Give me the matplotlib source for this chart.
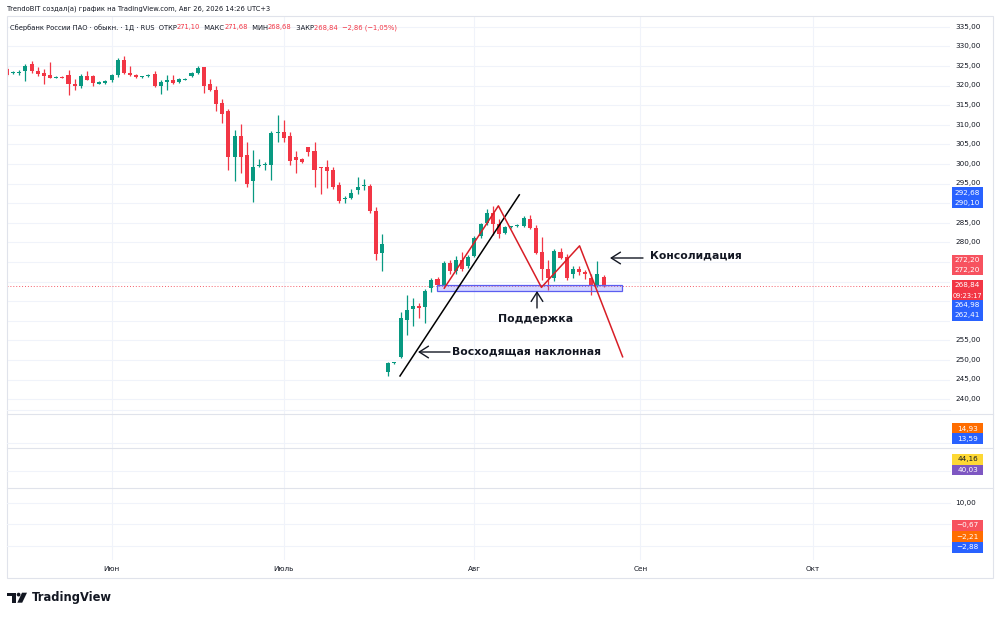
import matplotlib
matplotlib.use("Agg")
from matplotlib import pyplot as plt
from matplotlib.patches import Rectangle, Polygon, Circle

# daily candles (index = bar number)
opens = [324.3, 323.1, 323.3, 323.6, 325.4, 323.7, 323.2, 322.7, 322.0, 322.2,
         322.6, 320.5, 320.0, 322.4, 322.4, 320.5, 320.7, 321.3, 322.6, 326.5,
         323.3, 322.8, 322.2, 322.3, 322.9, 320.0, 321.0, 321.3, 320.8, 321.5,
         322.4, 323.1, 324.6, 320.5, 318.9, 315.5, 313.5, 301.7, 307.2, 302.3,
         295.7, 299.5, 299.7, 299.8, 307.9, 308.1, 307.0, 301.7, 301.3, 304.2,
         303.4, 299.1, 299.3, 298.5, 294.7, 291.1, 291.3, 293.3, 294.3, 294.4,
         288.0, 277.3, 247.0, 249.1, 250.8, 260.2, 263.0, 263.8, 263.6, 268.4,
         270.7, 269.2, 274.6, 272.6, 275.6, 273.9, 276.5, 281.6, 284.8, 287.6,
         284.6, 282.4, 283.8, 284.1, 284.2, 285.9, 283.7, 277.5, 273.3, 270.8,
         277.6, 276.2, 272.0, 273.3, 272.4, 270.8, 269.2, 271.10]
highs = [324.6, 323.7, 324.0, 325.6, 326.3, 324.7, 324.2, 326.0, 322.4, 322.4,
         324.0, 321.6, 323.0, 323.6, 322.6, 321.1, 321.3, 323.0, 327.0, 327.5,
         324.9, 323.0, 322.5, 323.0, 323.6, 321.4, 322.8, 322.7, 321.8, 321.8,
         323.4, 324.9, 324.8, 321.7, 319.8, 316.6, 314.0, 308.7, 310.2, 305.5,
         303.6, 301.3, 300.4, 308.5, 312.6, 311.3, 308.1, 303.4, 301.6, 304.4,
         305.6, 299.3, 301.1, 299.1, 295.5, 291.9, 293.7, 296.7, 296.1, 294.9,
         289.0, 282.0, 249.5, 249.5, 262.2, 266.5, 265.9, 264.5, 268.2, 271.0,
         271.1, 275.2, 275.4, 276.4, 277.5, 276.8, 281.6, 285.0, 288.5, 289.3,
         285.9, 284.2, 284.2, 284.6, 286.8, 287.0, 284.4, 281.3, 275.6, 278.4,
         278.6, 277.1, 274.0, 274.0, 272.9, 271.9, 275.2, 271.68]
lows = [322.4, 322.9, 322.8, 321.2, 323.3, 322.5, 320.3, 321.8, 321.8, 321.9,
        317.7, 318.8, 319.3, 321.3, 320.0, 320.3, 320.5, 321.0, 322.2, 322.9,
        322.5, 321.8, 322.0, 322.2, 319.6, 317.9, 318.9, 320.5, 320.6, 321.4,
        322.2, 322.9, 318.1, 318.7, 313.6, 310.4, 298.5, 295.6, 297.8, 294.2,
        290.4, 299.1, 298.4, 296.0, 305.5, 305.5, 299.8, 297.8, 300.2, 302.1,
        294.0, 292.3, 293.8, 293.6, 289.9, 289.9, 291.0, 292.2, 293.3, 287.6,
        275.6, 272.6, 246.0, 249.0, 250.5, 256.4, 258.7, 260.6, 259.4, 267.2,
        268.8, 268.8, 271.8, 272.0, 272.8, 273.4, 276.2, 281.2, 284.3, 281.9,
        281.2, 282.0, 283.6, 283.8, 284.0, 283.3, 276.9, 270.5, 267.9, 270.2,
        275.8, 270.4, 271.0, 271.6, 270.6, 266.6, 268.5, 268.68]
closes = [322.6, 323.4, 323.5, 325.0, 323.7, 322.9, 322.4, 322.0, 322.2, 322.0,
          320.3, 320.0, 322.4, 321.5, 320.6, 320.9, 321.1, 322.8, 326.6, 323.1,
          322.6, 322.2, 322.3, 322.8, 319.8, 320.9, 321.4, 320.7, 321.6, 321.6,
          323.1, 324.5, 320.0, 318.9, 315.2, 312.8, 301.7, 307.0, 301.7, 295.0,
          299.1, 299.7, 299.9, 307.8, 308.1, 306.6, 300.8, 301.0, 300.4, 303.1,
          298.5, 299.0, 298.3, 294.2, 290.6, 291.2, 292.7, 294.0, 294.6, 288.0,
          276.9, 279.6, 249.1, 249.3, 260.6, 262.8, 263.7, 263.2, 267.7, 270.5,
          269.2, 274.6, 272.6, 275.6, 273.3, 276.2, 281.2, 284.6, 287.6, 284.6,
          282.2, 283.9, 284.0, 284.3, 286.2, 283.7, 277.3, 273.3, 270.8, 277.8,
          276.1, 270.8, 273.3, 272.4, 271.8, 269.2, 271.8, 268.84]
last_price = 268.84

month_pos = [17, 45, 76, 103, 131]
month_names = ['Июн', 'Июль', 'Авг', 'Сен', 'Окт']
price_ticks = [335, 330, 325, 320, 315, 310, 305, 300, 295, 290, 285, 280,
               275, 270, 265, 260, 255, 250, 245, 240]
hidden_ticks = [290, 275, 270, 265, 260]   # covered by the coloured tags

# drawings
trend_x = [63.9, 83.3]
trend_y = [245.9, 292.1]
pattern_x = [71.1, 79.9, 86.9, 93.1, 100.1]
pattern_y = [268.3, 289.3, 268.5, 279.1, 250.8]
zone_x = [69.9, 100.0]
zone_y = [267.6, 269.1]

# scale tags on the right: (text, colour, pixel y)
tags = [('292,68', '#2962ff', 192.5), ('290,10', '#2962ff', 202.5),
        ('272,20', '#f7525f', 260.0), ('272,20', '#f7525f', 270.0),
        ('268,84', '#f23645', 285.5), ('09:23:17', '#f23645', 295.5),
        ('264,98', '#2962ff', 305.5), ('262,41', '#2962ff', 315.5),
        ('14,93', '#ff6d00', 428.5), ('13,59', '#2962ff', 438.5),
        ('44,16', '#fdd835', 459.5), ('40,03', '#7e57c2', 470.0),
        ('−0,67', '#f7525f', 525.5), ('−2,21', '#ff6d00', 536.5),
        ('−2,88', '#2962ff', 547.5)]

UP = '#089981'
DOWN = '#f23645'
INK = '#131722'
GRID = '#f0f3fa'
EDGE = '#e0e3eb'

W, H = 1000, 617
fig = plt.figure(figsize=(10, 6.17), dpi=100)
fig.patch.set_facecolor('white')

px_per_unit = 3.92
y_top = 335 + (26.7 - 16) / px_per_unit
y_bot = 335 - (414 - 26.7) / px_per_unit
x_left = (6.5 - 7) / 6.15
x_right = (950 - 7) / 6.15

ax = fig.add_axes([6.5 / W, 1 - 414 / H, 943.5 / W, (414 - 16) / H])
ax.set_xlim(x_left, x_right)
ax.set_ylim(y_bot, y_top)
ax.axis('off')

for p in price_ticks:
    ax.axhline(p, color=GRID, lw=0.8, zorder=0)
for m in month_pos:
    ax.axvline(m, color=GRID, lw=0.8, zorder=0)

xs = list(range(len(opens)))
cols = [UP if c >= o else DOWN for o, c in zip(opens, closes)]
ax.vlines(xs, lows, highs, colors=cols, lw=0.9, zorder=2)
bodies = [max(abs(c - o), 0.25) for o, c in zip(opens, closes)]
bottoms = [min(o, c) for o, c in zip(opens, closes)]
ax.bar(xs, bodies, bottom=bottoms, width=0.66, color=cols, lw=0, zorder=3)

ax.axhline(last_price, color=DOWN, lw=0.7, ls=(0, (1, 2)), alpha=0.8, zorder=1)

ax.add_patch(Rectangle((zone_x[0], zone_y[0]), zone_x[1] - zone_x[0],
                       zone_y[1] - zone_y[0], facecolor=(0.42, 0.44, 1.0, 0.28),
                       edgecolor='#5b5ef0', lw=0.9, zorder=4))
ax.plot(trend_x, trend_y, color='black', lw=1.1, zorder=5)
ax.plot(pattern_x, pattern_y, color='#d81e26', lw=1.1, zorder=5)

# indicator panes (empty, only grid)
ax2 = fig.add_axes([6.5 / W, 1 - 560 / H, 943.5 / W, (560 - 414) / H])
ax2.set_xlim(x_left, x_right)
ax2.set_ylim(0, 1)
ax2.axis('off')
for m in month_pos:
    ax2.axvline(m, color=GRID, lw=0.8, zorder=0)

# overlay in pixel coordinates for frame, texts and tags
ov = fig.add_axes([0, 0, 1, 1])
ov.set_xlim(0, W)
ov.set_ylim(H, 0)
ov.axis('off')

ov.add_patch(Rectangle((6.5, 16), 993 - 6.5, 578 - 16, fill=False,
                       edgecolor=EDGE, lw=0.8))
for yy in [410, 443, 471, 503, 524, 546]:
    ov.plot([6.5, 950], [yy, yy], color=GRID, lw=0.8)
for yy in [414, 447.5, 488]:
    ov.plot([6.5, 993], [yy, yy], color=EDGE, lw=0.8)

LBL = 5.2
for p in price_ticks:
    if p in hidden_ticks:
        continue
    yy = 26.7 + (335 - p) * px_per_unit
    ov.text(955, yy, f"{p:.2f}".replace('.', ','), fontsize=LBL, color=INK,
            va='center', ha='left')
ov.text(955, 503.3, '10,00', fontsize=LBL, color=INK, va='center', ha='left')

for txt, c, yy in tags:
    ov.add_patch(Rectangle((952, yy - 5.2), 31, 10.4, facecolor=c, lw=0))
    tc = INK if c == '#fdd835' else 'white'
    ov.text(967.5, yy, txt, fontsize=LBL if len(txt) < 7 else 4.8, color=tc,
            va='center', ha='center')

for m, name in zip(month_pos, month_names):
    xpx = 7 + m * 6.15
    ov.text(xpx, 569, name, fontsize=LBL, color=INK, ha='center', va='center')

# header lines
ov.text(7, 9, 'TrendoBIT создал(а) график на TradingView.com, Авг 26, 2026 14:26 UTC+3',
        fontsize=4.85, color=INK, va='center', ha='left')

HDR = 4.9
pieces = [('Сбербанк России ПАО · обыкн. · 1Д · RUS  ОТКР', INK), ('271,10', DOWN),
          ('  МАКС', INK), ('271,68', DOWN), ('  МИН', INK), ('268,68', DOWN),
          ('  ЗАКР', INK), ('268,84  −2,86 (−1,05%)', DOWN)]
renderer = fig.canvas.get_renderer()
prefix = ''
for txt, c in pieces:
    if prefix:
        probe = ov.text(0, 0, prefix + '|', fontsize=HDR)
        bar = ov.text(0, 0, '|', fontsize=HDR)
        w = probe.get_window_extent(renderer).width - bar.get_window_extent(renderer).width
        probe.remove()
        bar.remove()
    else:
        w = 0
    ov.text(10 + w, 29.5, txt, fontsize=HDR, color=c, va='baseline', ha='left')
    prefix += txt

# annotations
head = dict(arrowstyle='->,head_length=0.55,head_width=0.35', color=INK, lw=1.0,
            mutation_scale=12, shrinkA=0, shrinkB=0)
ov.annotate('', xy=(610, 258), xytext=(643, 258), arrowprops=head)
ov.text(650, 256, 'Консолидация', fontsize=7.8, fontweight='bold', color=INK,
        va='center', ha='left')
ov.annotate('', xy=(537, 291), xytext=(537, 308), arrowprops=head)
ov.text(536, 319, 'Поддержка', fontsize=7.8, fontweight='bold', color=INK,
        va='center', ha='center')
ov.annotate('', xy=(418, 352), xytext=(450, 352), arrowprops=head)
ov.text(452, 352, 'Восходящая наклонная', fontsize=7.8, fontweight='bold', color=INK,
        va='center', ha='left')

# TradingView logo
ov.add_patch(Rectangle((7.3, 592.7), 8.7, 3.5, facecolor=INK, lw=0))
ov.add_patch(Rectangle((11.8, 592.7), 4.2, 10, facecolor=INK, lw=0))
ov.add_patch(Circle((18.6, 594.6), 1.9, facecolor=INK, lw=0))
ov.add_patch(Polygon([(22.0, 592.7), (27.0, 592.7), (22.2, 602.7), (17.3, 602.7)],
                     closed=True, facecolor=INK, lw=0))
ov.text(31.5, 598, 'TradingView', fontsize=8.3, fontweight='bold', color=INK,
        va='center', ha='left')

fig.savefig('out.png', dpi=100)
